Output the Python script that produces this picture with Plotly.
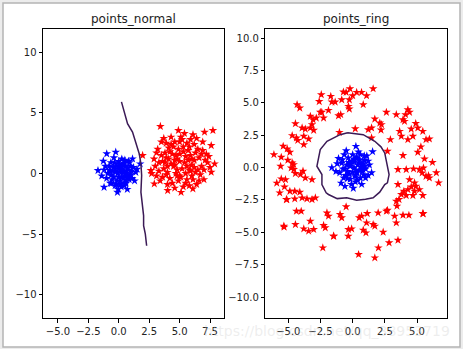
import plotly.graph_objects as go

W, H = 463, 349

# ---------------- points_normal ----------------
normal_blue_x = [0.2, -0.3, 0.5, 0.1, -0.6, 0.8, 0.3, -0.2, 0.6, -0.8, 1.0, -1.0, 0.0, 0.4, -0.4, 0.9, -0.7, 0.2, 1.2, -1.2,
                 -0.99, -0.25, 1.13, 1.76, -1.27, -1.71, -1.21, -0.11, 1.3, 0.7, 0.1, -0.1, 0.35, 0.55, -0.5, -0.35, 0.75, 0.0,
                 0.25, -0.15, 0.45, 0.65, -0.55, 0.15, -0.45, 0.85, -0.9, 1.05, 0.05, -0.05, 0.3, 0.6, -0.25, 0.4, 0.95, -0.65,
                 1.4, -1.4, 0.5, -0.3, 0.2, 0.7, -0.75, 1.1, 0.1, -0.2, 0.6, 0.35, -0.6, 0.9, 1.5, -1.1, 0.0, 0.45, -0.4, 0.8]
normal_blue_y = [0.1, 0.4, -0.2, -0.6, -0.1, 0.3, 0.7, -0.9, -0.8, 0.6, -0.1, -0.4, 1.0, 0.2, -0.3, 0.9, -0.8, -1.1, 0.5, 0.3,
                 1.63, 1.76, 1.21, 0.8, 1.02, 0.25, -1.13, -1.54, -0.6, -1.3, 0.5, 0.0, -0.4, 0.6, 0.2, 0.9, -0.3, -0.3,
                 1.2, -0.6, -1.0, 0.05, -0.5, 0.35, 0.5, -0.5, 0.0, 0.2, 0.75, -1.3, 0.3, -0.1, 0.15, 0.85, 0.6, 0.9,
                 0.1, -0.2, 1.1, -1.0, -0.3, 0.45, 0.25, -0.4, -0.9, 0.65, -0.55, 0.1, -0.8, -0.15, 0.35, 0.6, 0.4, -0.75, 1.3, 1.0]

normal_red_x = [3.42, 7.6, 7.74, 7.05, 4.9, 7.88, 7.6, 4.02, 5.12, 6.09, 2.92, 1.96, 2.64,
                5.0, 4.5, 5.5, 4.2, 5.8, 4.8, 6.2, 3.8, 5.3, 4.6, 6.5, 3.5, 4.0, 5.6, 6.8, 3.2, 4.4, 5.9, 6.0, 3.0,
                5.2, 4.7, 5.4, 4.1, 6.3, 3.6, 4.9, 5.7, 6.6, 3.9, 4.3, 5.1, 6.1, 6.9, 7.2, 7.0, 6.4, 5.3, 4.6, 3.4,
                2.9, 3.3, 3.7, 4.5, 5.0, 5.6, 6.2, 6.7, 7.3, 6.0, 5.5, 4.8, 4.3, 3.9, 4.0, 5.8, 6.5, 7.1, 5.9, 5.3,
                4.6, 4.1, 3.5, 3.1, 3.6, 4.9, 5.6, 6.3, 6.9, 5.4, 4.7, 5.1, 5.9, 6.6, 4.4, 3.8, 5.7, 4.2, 6.1, 5.0,
                3.3, 4.8, 5.2, 6.4, 7.4, 3.7, 4.3, 5.5, 6.0, 6.8, 2.7, 3.9, 4.6, 5.8, 7.0, 6.2, 4.0, 5.0, 3.1, 7.5]
normal_red_y = [3.88, 2.31, 3.55, 3.41, 3.55, 0.8, 0.11, -1.4, -1.55, -1.26, -0.85, 1.49, 0.25,
                1.0, 0.6, 1.4, 1.8, 0.3, -0.2, 1.1, 0.9, 2.2, 2.6, 2.0, 1.5, 0.1, -0.5, 0.6, 2.0, -0.8, 2.8, -0.2, 0.6,
                0.4, 1.5, 0.9, 1.2, 1.7, -0.3, 2.0, 1.9, 1.3, 2.5, 3.0, 3.0, 3.2, 2.6, 1.6, -0.5, -0.9, -1.1, -1.2, -0.6,
                1.2, 0.2, 2.9, 2.2, 2.6, 2.5, 2.4, -0.1, 0.9, 0.7, 0.0, 0.3, 0.8, -0.1, -0.9, -1.0, 0.3, 1.1, 1.5, 1.8,
                1.1, 2.1, 2.6, -0.2, 1.0, -0.6, 0.6, 0.1, 1.9, 3.3, 0.0, -0.3, 0.2, -0.6, 1.6, 1.7, 1.1, -0.4, -0.5, 1.6,
                0.9, 1.2, 2.8, 2.9, 1.4, 0.4, 2.4, -0.8, 1.2, 1.6, 0.0, 1.3, 0.7, 2.2, 0.3, 0.5, 0.6, -0.2, 1.7, 0.5]

normal_boundary_x = [0.22, 0.39, 0.72, 1.13, 1.4, 1.68, 1.82, 1.88, 1.88, 1.82, 1.9, 2.04, 2.04, 2.18, 2.29]
normal_boundary_y = [5.9, 5.2, 4.1, 3.41, 2.45, 1.63, 0.8, 0.0, -0.17, -1.54, -2.37, -3.47, -4.3, -4.98, -5.95]

# ---------------- points_ring ----------------
ring_blue_x = [0.1, -0.3, 0.5, 0.2, -0.6, 0.8, 0.3, -0.2, 0.6, -0.8, 1.0, -1.0, 0.0, 0.4, -0.4, 0.9, -0.7, 0.2, 1.2, -1.2,
               1.55, 0.25, -1.62, 1.47, -0.5, 0.7, -0.9, 1.1, 0.05, -0.15, 0.35, 0.55, -0.45, 0.15, -0.25, 0.75, 0.0, 0.45,
               -0.55, 0.65, 0.85, -0.85, 1.3, -1.3, 0.3, -0.35, 0.6, -0.1, 0.9, -0.65, 0.2, 0.4, -0.2, 1.0, -0.75, 0.1,
               -1.1, 1.2, 0.5, -0.4, 0.8, -0.05, 0.25, 0.7, -0.6, 0.95]
ring_blue_y = [0.0, 0.4, -0.2, -0.6, -0.1, 0.3, 0.7, -0.9, -0.8, 0.6, -0.1, -0.4, 1.0, 0.2, -0.3, 0.9, -0.8, -1.1, 0.5, 0.3,
               1.23, 1.64, 0.0, -0.4, 1.3, -1.3, -1.2, 0.9, -1.6, 0.3, -0.4, 0.6, 0.2, 0.45, -0.5, -0.3, -0.35, 1.2,
               -0.6, 0.05, -0.55, 0.35, 0.2, -0.3, 0.85, 0.75, 1.0, -1.3, 0.55, 1.0, -0.7, -1.0, 0.1, -0.8, -0.1, 0.65,
               0.7, -0.6, 0.35, -0.85, -0.15, 0.5, -0.2, 0.25, -1.45, 0.1]

ring_red_x = [1.59, -0.21, -0.72, -0.51, 0.31, 0.69, -2.44, 0.0, 1.08, -0.85, -0.26, -1.62, -1.36, 0.82, -4.32, -4.11,
              -0.33, -0.26, -1.88, -2.52, -2.4, -1.1, -0.93, -3.29, -3.08, -2.83, -2.26, -4.45, -3.93, -3.68, -3.16,
              -3.29, -3.03, -4.7, -4.37, -4.27, -3.8, -3.42, -3.8, -1.03, -5.4, -5.09, -4.88, -6.12, -5.55, -5.6,
              -5.04, -4.7, -4.58, -4.78, -4.58, -5.55, -5.22, -4.45, -4.06, -3.68, -3.86, -3.16, -5.3, -4.88, -4.5,
              -4.11, -5.12, -4.5, -3.93, -3.55, -3.16, -2.9, -4.37, -4.0, -5.35, -4.45, -3.8, -3.42, -3.03, -3.29,
              -2.26, -2.13, -2.0, -1.88, -1.49, -0.98, -0.85, -0.51, -0.33, -0.08, 0.51, 0.69, 1.08, 1.13, 0.82, 1.03,
              1.59, 1.72, 1.98, 2.37, 2.62, 2.7, 3.26, 3.39, 3.91, 4.37, 5.45, 3.39, 3.6, 3.44, 3.78, 3.98, 4.29,
              4.55, 4.81, 4.16, 4.68, 4.91, 5.19, 5.45, 3.52, 4.42, 4.81, 5.7, 5.89, 5.96, 5.4, 6.68, 3.52, 4.16,
              4.73, 5.19, 5.5, 5.58, 3.91, 2.7, 5.06, 4.29, 3.78, 3.65, 4.68, 5.7, 5.96, 2.93, 1.47, 4.55, 5.06,
              5.45, 3.39, 4.11, 4.29, 4.42, 2.62, 1.21, 1.47, 2.11, 2.24, 1.72, 3.91, 4.03, -2.32, 0.46, 1.72, 2.0,
              2.83, 3.52, -1.47, -0.34, -5.33, 5.48, -5.67, -5.15, 6.2, 6.5, 5.3, 4.9, -2.6, -1.7, 0.2, 2.2, -5.9]
ring_red_y = [6.09, 6.09, 5.84, 5.81, 5.81, 5.81, 5.63, 5.55, 5.55, 5.24, 5.24, 5.06, 5.06, 4.86, 4.86, 4.6,
              4.73, 4.52, 4.42, 4.27, 4.27, 4.0, 4.09, 3.96, 3.7, 3.83, 3.83, 3.39, 3.06, 2.98, 3.32,
              3.06, 2.88, 2.47, 2.29, 2.1, 2.42, 2.21, 1.77, 2.72, 1.65, 1.44, 1.18, 1.0, 0.8, 0.1,
              0.57, 0.36, 0.23, -0.03, -0.15, -0.87, -0.93, -0.46, -0.54, -0.8, -0.28, -0.93, -1.49, -1.83, -1.83,
              -1.9, -2.47, -2.42, -2.34, -2.42, -2.47, -2.34, -3.37, -3.37, -4.52, -4.4, -4.73, -4.91, -4.78, -4.14,
              -4.47, -4.65, -3.5, -3.75, -5.3, -3.62, -3.88, -3.03, -4.78, -4.73, -3.88, -3.75, -4.27, -3.55, -4.83, -5.04,
              -4.4, -4.52, -3.5, -4.99, -3.37, -3.3, -3.75, -4.27, -3.68, -3.68, -3.55, -2.6, -2.47, -2.98, -2.08, -1.83, -1.7,
              -1.49, -1.83, -2.16, -2.16, -1.44, -1.7, -2.16, -1.31, -0.93, -1.18, -0.67, -0.62, -0.8, -0.41, -1.18, -0.15, -0.15,
              -0.1, -0.15, -0.03, 0.67, 0.93, 1.26, 1.18, 2.16, 2.42, 2.8, 2.42, 2.16, 2.21, 2.16, 2.29, 2.98, 3.06,
              2.8, 4.09, 4.09, 4.47, 4.27, 4.27, 2.93, 3.06, 3.44, 3.32, 3.75, 3.7, 3.57, -6.2, -6.71, -6.97, -6.2,
              -5.81, -5.61, -5.3, -5.3, -4.6, -3.57, -1.95, -2.47, 0.4, -0.4, 1.6, 3.4, 5.1, 5.5, 3.0, 2.9, -1.2]

ring_boundary_x = [-0.39, 0.82, 1.72, 2.2, 2.49, 2.75, 2.83, 2.7, 2.49, 2.1, 1.59, 1.0, 0.31, -0.46, -1.2,
                   -1.88, -2.06, -2.39, -2.39, -2.78, -2.65, -2.52, -2.0, -0.98, -0.39]
ring_boundary_y = [2.68, 2.54, 2.03, 1.6, 1.13, -0.15, -0.54, -1.18, -1.31, -1.9, -2.34, -2.45, -2.52, -2.34, -2.4,
                   -2.08, -1.95, -1.31, -0.54, 0.1, 0.87, 1.39, 2.03, 2.54, 2.68]

normal_xticks = [-5.0, -2.5, 0.0, 2.5, 5.0, 7.5]
normal_yticks = [-10, -5, 0, 5, 10]
ring_xticks = [-5.0, -2.5, 0.0, 2.5, 5.0]
ring_yticks = [-10.0, -7.5, -5.0, -2.5, 0.0, 2.5, 5.0, 7.5, 10.0]


def fmt(v, dec):
    s = f"{v:.{dec}f}"
    return s.replace("-", "\u2212")


FONT = "DejaVu Sans"
MARK = dict(symbol="star", size=6.5, line=dict(width=0))
LINE_COLOR = "#3b1a56"

fig = go.Figure()

fig.add_trace(go.Scatter(x=normal_blue_x, y=normal_blue_y, mode="markers",
                         marker=dict(color="#0000ff", **MARK), xaxis="x", yaxis="y"))
fig.add_trace(go.Scatter(x=normal_red_x, y=normal_red_y, mode="markers",
                         marker=dict(color="#ff0000", **MARK), xaxis="x", yaxis="y"))
fig.add_trace(go.Scatter(x=normal_boundary_x, y=normal_boundary_y, mode="lines",
                         line=dict(color=LINE_COLOR, width=1.5), xaxis="x", yaxis="y"))

fig.add_trace(go.Scatter(x=ring_red_x, y=ring_red_y, mode="markers",
                         marker=dict(color="#ff0000", **MARK), xaxis="x2", yaxis="y2"))
fig.add_trace(go.Scatter(x=ring_blue_x, y=ring_blue_y, mode="markers",
                         marker=dict(color="#0000ff", **MARK), xaxis="x2", yaxis="y2"))
fig.add_trace(go.Scatter(x=ring_boundary_x, y=ring_boundary_y, mode="lines",
                         line=dict(color=LINE_COLOR, width=1.5), xaxis="x2", yaxis="y2"))


def px_x(p):
    return p / W


def px_y(p):
    return 1 - p / H


axis_common = dict(showgrid=False, zeroline=False, showline=True, mirror=True,
                   linecolor="black", linewidth=1, ticks="outside", ticklen=3.5,
                   tickwidth=1, tickcolor="black",
                   tickfont=dict(family=FONT, size=10, color="#222222"))

fig.update_layout(
    width=W, height=H,
    margin=dict(l=0, r=0, t=0, b=0),
    paper_bgcolor="#ececec",
    plot_bgcolor="white",
    showlegend=False,
    xaxis=dict(domain=[px_x(43), px_x(224)], range=[-6.23, 8.65], anchor="y",
               tickvals=normal_xticks, ticktext=[fmt(v, 1) for v in normal_xticks], **axis_common),
    yaxis=dict(domain=[px_y(318), px_y(29)], range=[-11.9, 11.9], anchor="x",
               tickvals=normal_yticks, ticktext=[fmt(v, 0) for v in normal_yticks], **axis_common),
    xaxis2=dict(domain=[px_x(265.3), px_x(447)], range=[-6.79, 7.33], anchor="y2",
                tickvals=ring_xticks, ticktext=[fmt(v, 1) for v in ring_xticks], **axis_common),
    yaxis2=dict(domain=[px_y(318), px_y(29)], range=[-11.62, 10.7], anchor="x2",
                tickvals=ring_yticks, ticktext=[fmt(v, 1) for v in ring_yticks], **axis_common),
    shapes=[dict(type="rect", xref="paper", yref="paper", layer="below",
                 x0=px_x(3), x1=px_x(460), y0=px_y(347), y1=px_y(3),
                 fillcolor="white", line=dict(color="#b4b4b4", width=1.5))],
    annotations=[
        dict(text="points_normal", x=px_x(133.5), y=px_y(19), xref="paper", yref="paper",
             xanchor="center", yanchor="middle",
             showarrow=False, font=dict(family=FONT, size=12, color="#222222")),
        dict(text="points_ring", x=px_x(356), y=px_y(19), xref="paper", yref="paper",
             xanchor="center", yanchor="middle",
             showarrow=False, font=dict(family=FONT, size=12, color="#222222")),
        dict(text="https://blog.csdn.net/qq_38953719", x=px_x(452), y=px_y(331),
             xref="paper", yref="paper", xanchor="right", yanchor="middle", showarrow=False,
             font=dict(family=FONT, size=14, color="rgba(205,205,205,0.35)")),
    ],
)

fig.write_html("out.html")
